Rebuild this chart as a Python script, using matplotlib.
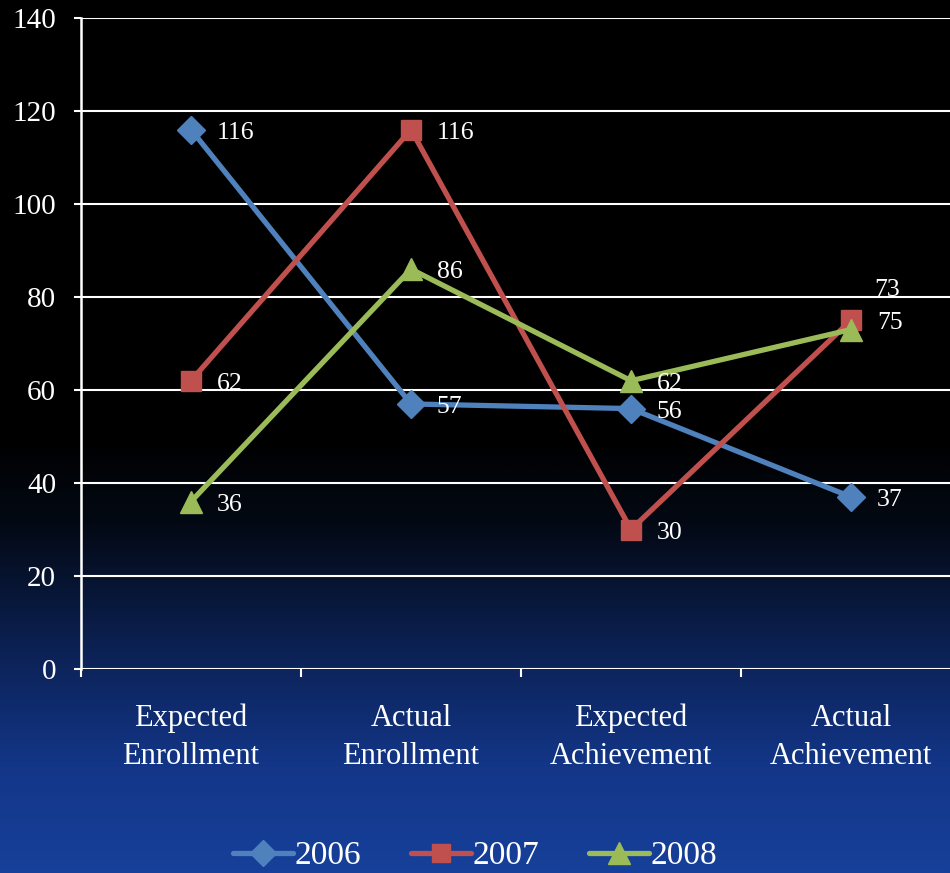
import numpy as np
import matplotlib
matplotlib.use("Agg")
import matplotlib.pyplot as plt
from matplotlib.colors import LinearSegmentedColormap

categories = ["Expected\nEnrollment", "Actual\nEnrollment", "Expected\nAchievement", "Actual\nAchievement"]
series_names = ["2006", "2007", "2008"]
v2006 = [116, 57, 56, 37]
v2007 = [62, 116, 30, 75]
v2008 = [36, 86, 62, 73]
yticks = [0, 20, 40, 60, 80, 100, 120, 140]

colors = ["#4F81BD", "#C0504D", "#9BBB59"]
markers = ["D", "s", "^"]
msizes = [14, 14, 16]

plt.rcParams['font.family'] = ['Liberation Serif', 'DejaVu Serif']

fig = plt.figure(figsize=(9.5, 8.73), dpi=100)

# gradient background
bg = fig.add_axes([0, 0, 1, 1], zorder=-10)
cmap = LinearSegmentedColormap.from_list("bg", [
    (0.0, "#17409a"),
    (0.12, "#133688"),
    (0.25, "#0c2256"),
    (0.40, "#030914"),
    (0.50, "#000000"),
    (1.0, "#000000")])
grad = np.linspace(0, 1, 512).reshape(-1, 1)
bg.imshow(grad, aspect='auto', cmap=cmap, origin='lower', extent=[0, 1, 0, 1])
bg.set_axis_off()

ax = fig.add_axes([81/950, 1-669/873, 880/950, 651/873])
ax.set_facecolor('none')
x = np.arange(len(categories))
ax.set_xlim(-0.5, 3.5)
ax.set_ylim(0, 140)
ax.set_yticks(yticks)
ax.yaxis.grid(True, color='white', linewidth=1.5)
ax.set_axisbelow(True)
for s in ['top', 'right', 'bottom']:
    ax.spines[s].set_visible(False)
ax.spines['left'].set_color('white')
ax.spines['left'].set_linewidth(1.8)
ax.tick_params(axis='y', colors='white', labelsize=21, length=5, width=1.5, pad=13)
ax.set_xticks(x)
ax.set_xticklabels(categories, color='white', fontsize=22, linespacing=1.4)
ax.tick_params(axis='x', length=0, pad=25)
ax.set_xticks(np.arange(-0.5, 3.0, 1.0), minor=True)
ax.tick_params(axis='x', which='minor', length=6, width=1.5, color='white')

all_vals = [v2006, v2007, v2008]
for name, vals, c, m, ms in zip(series_names, all_vals, colors, markers, msizes):
    ax.plot(x, vals, color=c, linewidth=3.8, marker=m, markersize=ms,
            markeredgecolor=c, label=name, solid_capstyle='round', clip_on=False)

for vals in all_vals:
    for xi, v in zip(x, vals):
        dx, dy = 26, -3
        if vals is v2008 and xi == 3:
            dx, dy = 23, 40
        ax.annotate(str(v), (xi, v), xytext=(dx, dy), textcoords='offset pixels',
                    color='white', fontsize=18.5, ha='left', va='center')

leg = fig.legend(loc='center', bbox_to_anchor=(0.5, 1-856/873), ncol=3, frameon=False,
                 fontsize=24, handlelength=1.8, columnspacing=1.5, handletextpad=0.05,
                 labelcolor='white', markerscale=0.95)

fig.savefig("out.png", dpi=100)
